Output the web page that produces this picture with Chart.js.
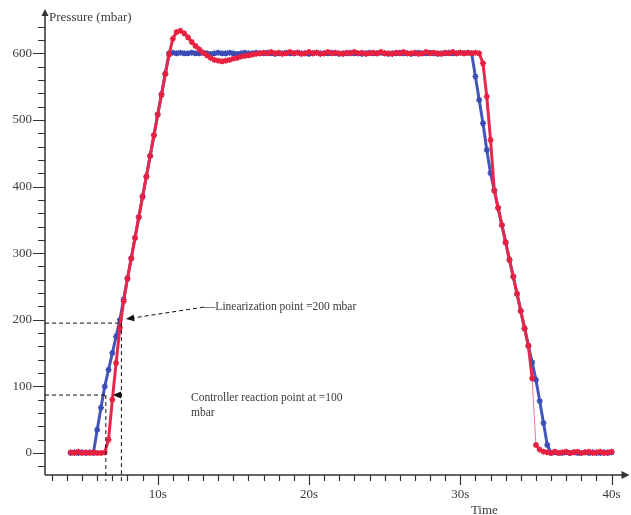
<!DOCTYPE html>
<html>
<head>
<meta charset="utf-8">
<script src="https://cdn.jsdelivr.net/npm/chart.js@4/dist/chart.umd.min.js"></script>
<style>
  body { margin: 0; background: #fff; }
</style>
</head>
<body>
<canvas id="myChart" width="631" height="515"></canvas>
<script>
// time stamps (s), one row per second
const times = [
  4.25, 4.5, 4.75, 5,   5.25, 5.5, 5.75, 6,   6.25, 6.5, 6.75, 7,   7.25, 7.5, 7.75, 8,
  8.25, 8.5, 8.75, 9,   9.25, 9.5, 9.75, 10,  10.25, 10.5, 10.75, 11,  11.25, 11.5, 11.75, 12,
  12.25, 12.5, 12.75, 13,  13.25, 13.5, 13.75, 14,  14.25, 14.5, 14.75, 15,  15.25, 15.5, 15.75, 16,
  16.25, 16.5, 16.75, 17,  17.25, 17.5, 17.75, 18,  18.25, 18.5, 18.75, 19,  19.25, 19.5, 19.75, 20,
  20.25, 20.5, 20.75, 21,  21.25, 21.5, 21.75, 22,  22.25, 22.5, 22.75, 23,  23.25, 23.5, 23.75, 24,
  24.25, 24.5, 24.75, 25,  25.25, 25.5, 25.75, 26,  26.25, 26.5, 26.75, 27,  27.25, 27.5, 27.75, 28,
  28.25, 28.5, 28.75, 29,  29.25, 29.5, 29.75, 30,  30.25, 30.5, 30.75, 31,  31.25, 31.5, 31.75, 32,
  32.25, 32.5, 32.75, 33,  33.25, 33.5, 33.75, 34,  34.25, 34.5, 34.75, 35,  35.25, 35.5, 35.75, 36,
  36.25, 36.5, 36.75, 37,  37.25, 37.5, 37.75, 38,  38.25, 38.5, 38.75, 39,  39.25, 39.5, 39.75, 40
];

// blue: reference pressure (mbar)
const setpoint = [
  0, 1, 0, 1,   0, 1, 0, 35,   68, 100, 125, 150,   175, 200, 231, 262,
  292, 323, 354, 385,   415, 446, 477, 508,   538, 569, 600, 601,   600, 601, 600, 600,
  601, 600, 600, 601,   600, 599, 600, 601,   600, 600, 601, 600,   599, 600, 601, 600,
  600, 601, 600, 600,   601, 600, 599, 600,   600, 601, 600, 600,   601, 600, 600, 599,
  600, 601, 600, 600,   600, 601, 600, 599,   600, 600, 601, 600,   600, 599, 600, 601,
  600, 600, 601, 600,   599, 600, 600, 601,   600, 600, 599, 600,   601, 600, 600, 601,
  600, 599, 600, 600,   601, 600, 600, 601,   600, 601, 600, 565,   530, 495, 455, 420,
  394, 368, 342, 316,   290, 265, 239, 213,   187, 161, 136, 110,   78, 45, 12, 0,
  1, 0, 0, 1,   0, 1, 0, 0,   1, 0, 1, 0,   0, 1, 0, 1
];

// red: measured pressure (mbar)
const measured = [
  1, 0, 2, 0,   1, 0, 1, 0,   0, 1, 20, 80,   135, 188, 228, 262,
  292, 323, 354, 385,   415, 446, 477, 508,   538, 569, 598, 622,   632, 634, 630, 624,
  617, 611, 606, 601,   597, 593, 590, 589,   588, 589, 590, 592,   593, 595, 596, 597,
  598, 599, 600, 601,   600, 602, 600, 601,   599, 600, 602, 600,   601, 599, 600, 602,
  600, 601, 599, 600,   602, 600, 601, 600,   599, 601, 600, 602,   600, 601, 599, 600,
  601, 600, 602, 600,   600, 599, 601, 600,   602, 600, 600, 601,   599, 600, 602, 600,
  601, 600, 599, 601,   600, 602, 600, 601,   600, 601, 600, 601,   600, 585, 535, 470,
  394, 368, 342, 316,   290, 265, 239, 213,   187, 161, 112, 12,   5, 2, 1, 0,
  2, 0, 1, 2,   0, 1, 2, 0,   1, 2, 0, 1,   2, 0, 1, 2
];

const xTickValues = [10, 20, 30, 40];
const xTickLabels = ["10s", "20s", "30s", "40s"];
const yTickValues = [0, 100, 200, 300, 400, 500, 600];
const yTickLabels = ["0", "100", "200", "300", "400", "500", "600"];

// annotation anchor points (time s, pressure mbar)
const linPoint = { t: 7.6, p: 195 };
const linArrowTip = { t: 7.9, p: 201 };
const linText = { t: 13.05, p: 219, label: "Linearization point =200 mbar" };
const reactPoint = { t: 6.57, p: 87 };
const reactArrowTip = { t: 7.03, p: 87 };
const reactText = { t: 12.2, p: 83, lines: ["Controller reaction point at =100", "mbar"] };

const serif = '"Liberation Serif", "DejaVu Serif", serif';
const axisColor = "#333";
const textColor = "#3a3a3a";

const toPoints = (ys) => times.map((t, i) => ({ x: t, y: ys[i] }));

// a sudden jump between two samples is drawn as a thin faint line
const jumpWidth = (c, w) => (Math.abs(c.p0.parsed.y - c.p1.parsed.y) > 80 ? 1 : w);
const jumpColor = (c, col, faint) => (Math.abs(c.p0.parsed.y - c.p1.parsed.y) > 80 ? faint : col);

const axesPlugin = {
  id: "axesAndNotes",
  beforeDraw(chart) {
    const ctx = chart.ctx;
    ctx.save();
    ctx.fillStyle = "#fff";
    ctx.fillRect(0, 0, chart.width, chart.height);
    ctx.restore();
  },
  afterDatasetsDraw(chart) {
    const { ctx, chartArea: a, scales: { x, y } } = chart;
    ctx.save();
    ctx.strokeStyle = axisColor;
    ctx.fillStyle = axisColor;
    ctx.lineWidth = 1.5;

    // axis lines
    ctx.beginPath();
    ctx.moveTo(a.left, a.bottom);
    ctx.lineTo(a.right, a.bottom);
    ctx.moveTo(a.left, a.bottom);
    ctx.lineTo(a.left, a.top + 2);
    ctx.stroke();

    // arrow heads
    ctx.beginPath();
    ctx.moveTo(a.right + 4, a.bottom);
    ctx.lineTo(a.right - 4, a.bottom - 4);
    ctx.lineTo(a.right - 4, a.bottom + 4);
    ctx.closePath();
    ctx.fill();
    ctx.beginPath();
    ctx.moveTo(a.left, a.top - 3);
    ctx.lineTo(a.left - 3.5, a.top + 4);
    ctx.lineTo(a.left + 3.5, a.top + 4);
    ctx.closePath();
    ctx.fill();

    // tick marks
    ctx.lineWidth = 1.2;
    ctx.beginPath();
    for (let t = 3; t <= 40; t += 1) {
      const px = Math.round(x.getPixelForValue(t)) + 0.5;
      const len = t % 10 === 0 ? 10 : 6;
      ctx.moveTo(px, a.bottom);
      ctx.lineTo(px, a.bottom + len);
    }
    for (let p = -20; p <= 640; p += 20) {
      const py = Math.round(y.getPixelForValue(p)) + 0.5;
      const len = p % 100 === 0 ? 12 : 7;
      ctx.moveTo(a.left, py);
      ctx.lineTo(a.left - len, py);
    }
    ctx.stroke();

    // tick labels
    ctx.fillStyle = textColor;
    ctx.font = "13px " + serif;
    ctx.textAlign = "center";
    ctx.textBaseline = "middle";
    xTickValues.forEach((v, i) => {
      ctx.fillText(xTickLabels[i], x.getPixelForValue(v), a.bottom + 20);
    });
    ctx.textAlign = "right";
    yTickValues.forEach((v, i) => {
      ctx.fillText(yTickLabels[i], a.left - 13, y.getPixelForValue(v));
    });

    // axis titles
    ctx.textAlign = "left";
    ctx.fillText("Pressure (mbar)", a.left + 4, a.top + 6);
    ctx.textBaseline = "top";
    ctx.fillText("Time", x.getPixelForValue(30.7), a.bottom + 29);

    // dashed guide lines
    ctx.strokeStyle = "#111";
    ctx.lineWidth = 1;
    ctx.setLineDash([4, 3]);
    ctx.beginPath();
    [linPoint, reactPoint].forEach((pt) => {
      const px = x.getPixelForValue(pt.t);
      const py = y.getPixelForValue(pt.p);
      ctx.moveTo(a.left, py);
      ctx.lineTo(px, py);
      ctx.moveTo(px, py);
      ctx.lineTo(px, a.bottom + 6);
    });
    const tipX = x.getPixelForValue(linArrowTip.t);
    const tipY = y.getPixelForValue(linArrowTip.p);
    const txtX = x.getPixelForValue(linText.t);
    const txtY = y.getPixelForValue(linText.p);
    ctx.moveTo(txtX, txtY);
    ctx.lineTo(tipX + 6, tipY - 1);
    ctx.stroke();
    ctx.setLineDash([]);

    // arrow heads on the notes
    ctx.fillStyle = "#111";
    const head = (hx, hy, ang) => {
      ctx.beginPath();
      ctx.moveTo(hx, hy);
      ctx.lineTo(hx + 9 * Math.cos(ang - 0.4), hy + 9 * Math.sin(ang - 0.4));
      ctx.lineTo(hx + 9 * Math.cos(ang + 0.4), hy + 9 * Math.sin(ang + 0.4));
      ctx.closePath();
      ctx.fill();
    };
    head(tipX, tipY, Math.atan2(txtY - tipY, txtX - tipX));
    head(x.getPixelForValue(reactArrowTip.t), y.getPixelForValue(reactArrowTip.p), 0);

    // note text
    ctx.fillStyle = textColor;
    ctx.font = "11.5px " + serif;
    ctx.textAlign = "left";
    ctx.textBaseline = "middle";
    ctx.fillText("\u2014" + linText.label, txtX, txtY);
    const rx = x.getPixelForValue(reactText.t);
    const ry = y.getPixelForValue(reactText.p);
    reactText.lines.forEach((line, i) => ctx.fillText(line, rx, ry + i * 15));
    ctx.restore();
  },
};

const ctx = document.getElementById("myChart");
const chart = new Chart(ctx, {
  type: "line",
  data: {
    datasets: [
      {
        label: "Measured",
        data: toPoints(measured),
        borderColor: "#e6284a",
        borderWidth: 3,
        segment: {
          borderWidth: (c) => jumpWidth(c, 3),
          borderColor: (c) => jumpColor(c, "#e6284a", "rgba(232, 90, 130, 0.8)"),
        },
        pointStyle: "star",
        pointRadius: 3,
        pointBorderWidth: 1.5,
        pointBorderColor: "#e8203f",
        pointBackgroundColor: "#e8203f",
        tension: 0,
      },
      {
        label: "Setpoint",
        data: toPoints(setpoint),
        borderColor: "#4556bb",
        borderWidth: 3,
        pointStyle: "star",
        pointRadius: 3,
        pointBorderWidth: 1.5,
        pointBorderColor: "#3a4bb5",
        pointBackgroundColor: "#3a4bb5",
        tension: 0,
      },
    ],
  },
  options: {
    responsive: false,
    animation: false,
    layout: { padding: { left: 45, top: 12, right: 4, bottom: 40 } },
    plugins: { legend: { display: false }, tooltip: { enabled: false } },
    scales: {
      x: { type: "linear", min: 2.55, max: 40.92, display: false },
      y: { type: "linear", min: -33, max: 662, display: false },
    },
  },
  plugins: [axesPlugin],
});
</script>
</body>
</html>
